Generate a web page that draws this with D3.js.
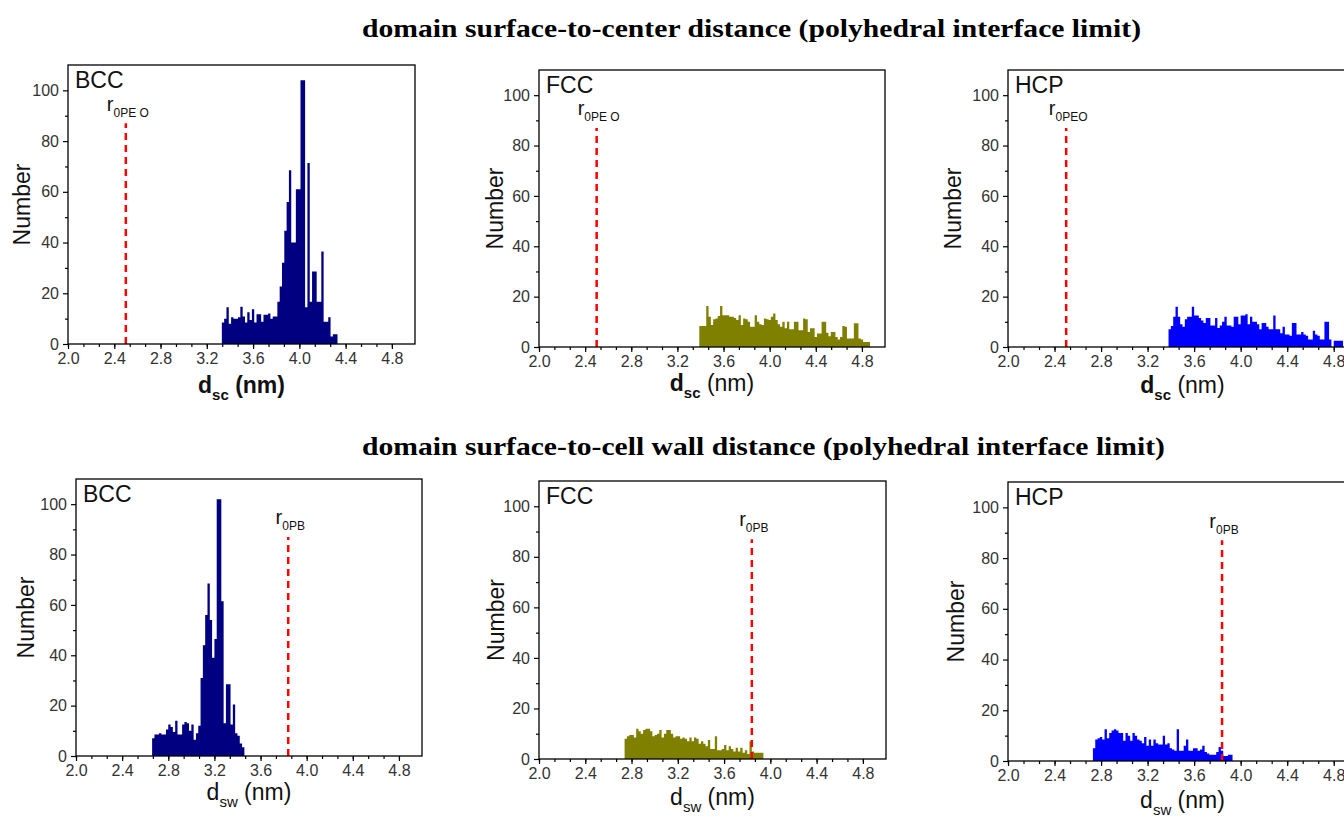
<!DOCTYPE html>
<html>
<head>
<meta charset="utf-8">
<title>domain distance histograms</title>
<script src="https://d3js.org/d3.v7.min.js"></script>
<style>
  body { margin: 0; background: #fff; }
  svg { display: block; }
  .tick text { fill: #333; }
</style>
</head>
<body>
<script>
// histogram counts, bin width 0.02 nm
const binWidth = 0.02;

const bccCenterStart = 3.33;
const bccCenter = [8.5,10,14.5,8,10.5,10,10,10.5,14.7,10.8,8.5,12.5,9.5,13.7,8.5,11.7,11.7,8.8,11.5,11.5,
  12,10,10.8,10.8,16.7,22.7,32,44.7,56,68.5,40,40,61,61,104,104,14.5,71.4,16.7,28.6,
  28.6,16.7,16.7,36.5,8.8,8.8,10.5,3,3.8,3.8];

const fccCenterStart = 3.39;
const fccCenter = [8.3,8.3,8.3,16.3,12,8.7,11,11.3,12.3,16.3,12.6,12.6,12.6,12,12,11.5,10.7,12.6,8.7,11.3,
  11,10,8,8,12.6,10,9,8.7,11.3,11,10.7,12,13.3,10.7,9,8,10,7.4,10,7,
  7,10,10,6.7,6.7,11.3,11,6,7.4,7.4,4,5.4,5.4,10,10,5.7,4.3,6,6,4,
  3,4,8.3,8,3.4,3.4,3.4,9.4,9.4,3.4,3,2,2,2];

const hcpCenterStart = 3.38;
const hcpCenter = [7,8.3,12,16,12,9,8,11,12,12,16,12.5,12.5,11.5,10.5,9.5,11.5,11.5,8.5,8.5,
  11.5,7.5,8.5,10,12,8.5,8.5,8,12,12,9,12.5,12.5,13,9,12,10,10,9,7,
  9.5,9.5,8,7,7,12.5,7,7,5.5,8,5,5,4.5,9.5,9.5,5,5,6,5,4.5,
  3,3,6.5,5,4.5,3,3,10,10,3,0,2.5,2.5,2.5,2.5];

const bccWallStart = 2.66;
const bccWall = [7,8.5,8.5,9,8.5,8.5,10.5,12.5,11.5,9.5,14,8.5,8.5,12.5,13.5,13,10,12.5,6.5,9,
  12,31,44,56,68.5,54,39,46.5,102,102,61.5,13,28.5,28.5,12.5,20.5,9,8,5,3.5];

const fccWallStart = 2.74;
const fccWall = [8,9,9.5,9.5,8.5,12,11,10,11.5,12,12,11,9,9.5,10,11.5,8.5,10,11.5,11.5,
  10,8.5,9,9,8,8.5,8,7,8.5,7,8.5,8,6,7,6,5,7.5,4,4,9,
  3.5,3.5,4,5.5,3.5,5,4,3,4.5,3,4.5,2.5,3.5,2,7,3,2.5,2.5,2.5,2.5];

const hcpWallStart = 2.73;
const hcpWall = [5,8.5,9,9.5,8.5,12.5,9,11,12,12.5,12,11,11,8,11,10,8,11,10,8.5,
  8,7,9.5,6,8.5,6,8.5,7,6.5,6.5,10,6.5,7,5,4.5,4,12.5,4,4,6,
  8.5,4,4,5,5,4,4.5,6,3.5,3,2.5,2.5,2.5,3.5,5.5,4,2,2,2.5,2.5];

// reference radii (dashed lines)
const r0PEO = 2.5;
const r0PB = 3.84;
const refTop = 87;

const xTicks = [2.0, 2.4, 2.8, 3.2, 3.6, 4.0, 4.4, 4.8];
const yTicks = [0, 20, 40, 60, 80, 100];

const titles = [
  "domain surface-to-center distance (polyhedral interface limit)",
  "domain surface-to-cell wall distance (polyhedral interface limit)"
];

const colors = { BCC: "#000080", FCC: "#808000", HCP: "#0000ff" };

const W = 1344, H = 817;
const font = "Arial, 'Liberation Sans', sans-serif";

const svg = d3.select("body").append("svg")
  .attr("width", W).attr("height", H)
  .attr("viewBox", `0 0 ${W} ${H}`);

// the titles in the figure are stretched wider than the font, so fit them
svg.selectAll("text.title")
  .data(titles)
  .enter()
  .append("text")
  .attr("class", "title")
  .attr("x", (d, i) => i ? 362 : 362)
  .attr("y", (d, i) => i ? 455 : 37)
  .attr("textLength", (d, i) => i ? 803 : 779)
  .attr("lengthAdjust", "spacingAndGlyphs")
  .style("font-family", "'Liberation Serif', 'Times New Roman', serif")
  .style("font-weight", "bold")
  .style("font-size", "26px")
  .text(d => d);

const panels = [
  { name: "BCC", data: bccCenter, start: bccCenterStart, ref: r0PEO, refSub: "0PE O", sub: "sc",
    box: [68, 65, 415, 344], yLab: 22, xLab: 393, boldAll: true, boldD: true },
  { name: "FCC", data: fccCenter, start: fccCenterStart, ref: r0PEO, refSub: "0PE O", sub: "sc",
    box: [539, 70, 885, 347], yLab: 495, xLab: 391, boldAll: false, boldD: true },
  { name: "HCP", data: hcpCenter, start: hcpCenterStart, ref: r0PEO, refSub: "0PEO", sub: "sc",
    box: [1008, 70, 1357, 347], yLab: 953, xLab: 393, boldAll: false, boldD: true },
  { name: "BCC", data: bccWall, start: bccWallStart, ref: r0PB, refSub: "0PB", sub: "sw",
    box: [76, 479, 422, 756], yLab: 26, xLab: 800, boldAll: false, boldD: false },
  { name: "FCC", data: fccWall, start: fccWallStart, ref: r0PB, refSub: "0PB", sub: "sw",
    box: [539, 481, 886, 759], yLab: 496, xLab: 805, boldAll: false, boldD: false },
  { name: "HCP", data: hcpWall, start: hcpWallStart, ref: r0PB, refSub: "0PB", sub: "sw",
    box: [1008, 482, 1357, 761], yLab: 956, xLab: 808, boldAll: false, boldD: false }
];

panels.forEach(p => drawPanel(p));

function drawPanel(p) {
  const [x0, y0, x1, y1] = p.box;
  const x = d3.scaleLinear().domain([2.0, 5.0]).range([x0, x1]);
  const y = d3.scaleLinear().domain([0, 110]).range([y1, y0]);
  const g = svg.append("g");

  // histogram as a stepped area
  const pts = p.data.map((v, i) => ({ x: p.start + i * binWidth, v: v }));
  pts.push({ x: p.start + p.data.length * binWidth, v: p.data[p.data.length - 1] });
  const area = d3.area()
    .curve(d3.curveStepAfter)
    .x(d => x(d.x))
    .y0(y(0))
    .y1(d => y(d.v));
  g.append("path")
    .datum(pts)
    .attr("d", area)
    .attr("fill", colors[p.name]);

  // reference radius
  g.append("line")
    .attr("x1", x(p.ref)).attr("x2", x(p.ref))
    .attr("y1", y(0)).attr("y2", y(refTop))
    .attr("stroke", "#ff0000")
    .attr("stroke-width", 2.5)
    .attr("stroke-dasharray", "7,5");

  const rl = g.append("text")
    .attr("x", x(p.ref) + 2)
    .attr("y", y(92))
    .attr("text-anchor", "middle")
    .style("font-family", font)
    .style("fill", "#111");
  rl.append("tspan").style("font-size", "20px").text("r");
  rl.append("tspan").attr("dy", 6).style("font-size", "12px").text(p.refSub);

  // axes
  const minorX = d3.range(0, 22).map(i => 2.0 + i * 0.4 / 3).filter(v => v < 4.99);
  const minorY = d3.range(10, 110, 20);

  g.append("g")
    .attr("transform", `translate(0,${y1})`)
    .call(d3.axisBottom(x).tickValues(minorX).tickSize(3).tickFormat(""))
    .call(a => a.select(".domain").remove());
  g.append("g")
    .attr("transform", `translate(0,${y1})`)
    .call(d3.axisBottom(x).tickValues(xTicks).tickSize(5).tickPadding(4).tickFormat(d3.format(".1f")))
    .call(a => a.select(".domain").remove())
    .call(a => a.selectAll("text").style("font-family", font).style("font-size", "16px"));

  g.append("g")
    .attr("transform", `translate(${x0},0)`)
    .call(d3.axisLeft(y).tickValues(minorY).tickSize(3).tickFormat(""))
    .call(a => a.select(".domain").remove());
  g.append("g")
    .attr("transform", `translate(${x0},0)`)
    .call(d3.axisLeft(y).tickValues(yTicks).tickSize(5).tickPadding(4))
    .call(a => a.select(".domain").remove())
    .call(a => a.selectAll("text").style("font-family", font).style("font-size", "16px"));

  g.selectAll(".tick line").attr("stroke", "#000").attr("stroke-width", 1.2);

  g.append("rect")
    .attr("x", x0).attr("y", y0)
    .attr("width", x1 - x0).attr("height", y1 - y0)
    .attr("fill", "none")
    .attr("stroke", "#000")
    .attr("stroke-width", 1.3);

  // labels
  g.append("text")
    .attr("x", x0 + 7)
    .attr("y", y0 + 23)
    .style("font-family", font)
    .style("font-size", "23px")
    .style("fill", "#111")
    .text(p.name);

  g.append("text")
    .attr("transform", `translate(${p.yLab},${(y0 + y1) / 2}) rotate(-90)`)
    .attr("text-anchor", "middle")
    .attr("dy", "0.35em")
    .style("font-family", font)
    .style("font-size", "23px")
    .style("fill", "#111")
    .text("Number");

  const xl = g.append("text")
    .attr("x", (x0 + x1) / 2)
    .attr("y", p.xLab)
    .attr("text-anchor", "middle")
    .style("font-family", font)
    .style("fill", "#111");
  xl.append("tspan").style("font-size", "23px")
    .style("font-weight", p.boldD ? "bold" : "normal").text("d");
  xl.append("tspan").attr("dy", 7).style("font-size", "15px")
    .style("font-weight", p.boldD ? "bold" : "normal").text(p.sub);
  xl.append("tspan").attr("dy", -7).style("font-size", "23px")
    .style("font-weight", p.boldAll ? "bold" : "normal").text("\u00a0(nm)");
}
</script>
</body>
</html>
